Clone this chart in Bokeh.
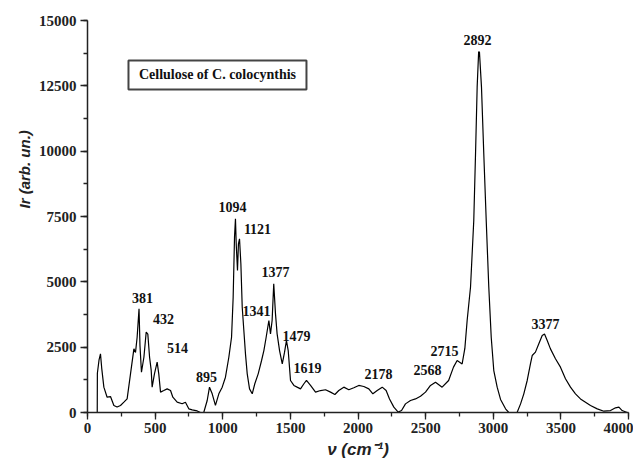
from bokeh.plotting import figure
from bokeh.models import (Range1d, SingleIntervalTicker, NumeralTickFormatter, ColumnDataSource, Title)
from bokeh.core.properties import value
from bokeh.embed import file_html
from bokeh.resources import INLINE

# Raman spectrum: wavenumber (cm-1) and intensity (arb. un.)
wavenumber = [70, 72, 73, 85, 96, 105, 121, 145, 170, 195, 219, 244, 269, 293, 318, 343, 355, 367,
              381, 388, 399, 417, 434, 446, 459, 471, 478, 495, 515, 527, 540, 564, 589, 614, 631,
              663, 700, 724, 749, 774, 811, 835, 860, 885, 902, 922, 946, 971, 996, 1020, 1045,
              1065, 1077, 1087, 1094, 1100, 1109, 1116, 1124, 1134, 1144, 1156, 1168, 1181, 1198,
              1218, 1237, 1262, 1287, 1304, 1321, 1341, 1353, 1365, 1377, 1390, 1402, 1420, 1440,
              1457, 1471, 1484, 1501, 1526, 1550, 1575, 1600, 1619, 1649, 1686, 1723, 1760, 1797,
              1829, 1858, 1895, 1932, 1969, 2006, 2043, 2080, 2110, 2142, 2179, 2208, 2233, 2265,
              2297, 2322, 2351, 2388, 2425, 2462, 2499, 2536, 2573, 2622, 2670, 2706, 2733, 2770,
              2790, 2807, 2832, 2856, 2869, 2881, 2892, 2898, 2913, 2930, 2948, 2967, 2985, 3004,
              3029, 3054, 3091, 3115, 3177, 3202, 3226, 3251, 3275, 3288, 3312, 3337, 3362, 3379,
              3399, 3423, 3460, 3497, 3534, 3571, 3608, 3645, 3682, 3719, 3769, 3818, 3867, 3904,
              3929, 3953, 3990]
intensity = [0, 0, 1500, 2000, 2245, 1700, 970, 585, 610, 270, 210, 270, 395, 520, 1480, 2435, 2300, 2880,
             3970, 2560, 1540, 2115, 3075, 3000, 2115, 1610, 970, 1480, 1925, 1480, 780, 840, 905, 840, 585,
             395, 335, 395, 140, 100, 60, 0, 10, 460, 970, 715, 270, 715, 970, 1350, 2115,
             2880, 4410, 6710, 7410, 6400, 5435, 6455, 6645, 5690, 4030, 3140, 2245, 1480, 905,
             715, 1100, 1480, 1990, 2370, 2880, 3520, 3010, 3520, 4925, 3775, 3010, 2370, 1860,
             2310, 2755, 2370, 1225, 1035, 970, 905, 1100, 1225, 1035, 780, 840, 870, 780,
             690, 840, 970, 870, 945, 1035, 995, 905, 715, 840, 970, 840, 520, 205,
             15, 75, 330, 460, 520, 620, 780, 1035, 1160, 970, 1225, 1735, 1990, 1860,
             2450, 3520, 4800, 7350, 9900, 12450, 13800, 13790, 12450, 9900, 7350, 4800, 2880, 1605,
             970, 500, 140, 0, 10, 330, 715, 1225, 1860, 2180, 2310, 2630, 2945, 3000,
             2755, 2435, 2055, 1735, 1290, 970, 715, 520, 395, 270, 140, 50, 75, 180,
             205, 75, 0]

# Peak annotations
peak_labels = ["381", "432", "514", "895", "1094", "1121", "1341", "1377", "1479", "1619",
               "2178", "2568", "2715", "2892", "3377"]
peak_label_x = [407, 562, 665, 880, 1072, 1257, 1250, 1390, 1545, 1627, 2152, 2514, 2640, 2884, 3386]
peak_label_y = [4400, 3560, 2450, 1340, 7845, 7040, 3900, 5360, 2945, 1720, 1455, 1610, 2335, 14235, 3405]

title_text = ["Cellulose of C. colocynthis"]
x_ticks_interval = 500
y_ticks_interval = 2500

p = figure(frame_width=541, frame_height=392,
           x_range=Range1d(0, 4000), y_range=Range1d(0, 15000),
           output_backend="svg", toolbar_location=None,
           min_border_left=87, min_border_right=5, min_border_top=20, min_border_bottom=45)
p.outline_line_color = None
p.xgrid.visible = False
p.ygrid.visible = False
p.background_fill_color = "white"
p.border_fill_color = "white"

p.xaxis.ticker = SingleIntervalTicker(interval=x_ticks_interval, num_minor_ticks=2)
p.yaxis.ticker = SingleIntervalTicker(interval=y_ticks_interval, num_minor_ticks=2)
p.yaxis.formatter = NumeralTickFormatter(format="0")
p.xaxis.formatter = NumeralTickFormatter(format="0")

for ax in (p.xaxis, p.yaxis):
    ax.axis_line_color = "#222222"
    ax.axis_line_width = 1.5
    ax.major_tick_line_color = "#222222"
    ax.minor_tick_line_color = "#222222"
    ax.major_tick_line_width = 1.3
    ax.minor_tick_line_width = 1.3
    ax.major_tick_out = 7
    ax.major_tick_in = 0
    ax.minor_tick_out = 4
    ax.minor_tick_in = 0
    ax.major_label_text_font = "Liberation Serif"
    ax.major_label_text_font_style = "bold"
    ax.major_label_text_font_size = "15px"
    ax.major_label_text_color = "#222222"
    ax.axis_label_text_font = "Liberation Sans"
    ax.axis_label_text_font_style = "bold italic"
    ax.axis_label_text_color = "#222222"

p.xaxis.axis_label = "ν (cm⁻¹)"
p.xaxis.axis_label_text_font_size = "17px"
p.xaxis.major_label_standoff = 3
p.xaxis.axis_label_standoff = 4
p.yaxis.major_label_standoff = 4

# y-axis title, set in the left panel and started well above the frame bottom as in the original
ytitle = Title(text="Ir (arb. un.)", align="left", offset=204,
               text_font="Liberation Sans", text_font_style="bold italic",
               text_font_size="15px", text_color="#222222", standoff=6)
p.add_layout(ytitle, "left")

p.line(wavenumber, intensity, line_color="black", line_width=1.2)

src = ColumnDataSource(dict(x=peak_label_x, y=peak_label_y, t=peak_labels))
p.text(x="x", y="y", text="t", source=src, text_font=value("Liberation Serif"),
       text_font_style="bold", text_font_size="14px", text_align="center",
       text_baseline="middle", text_color="#111111")

# Title box
p.quad(left=[303], right=[1619], bottom=[12360], top=[13470], fill_color="white",
       line_color="#444444", line_width=2)
p.text(x=[961], y=[12915], text=title_text, text_font=value("Liberation Serif"),
       text_font_style="bold", text_font_size="14px", text_align="center",
       text_baseline="middle", text_color="#111111")

open("out.html", "w").write(file_html(p, INLINE))
